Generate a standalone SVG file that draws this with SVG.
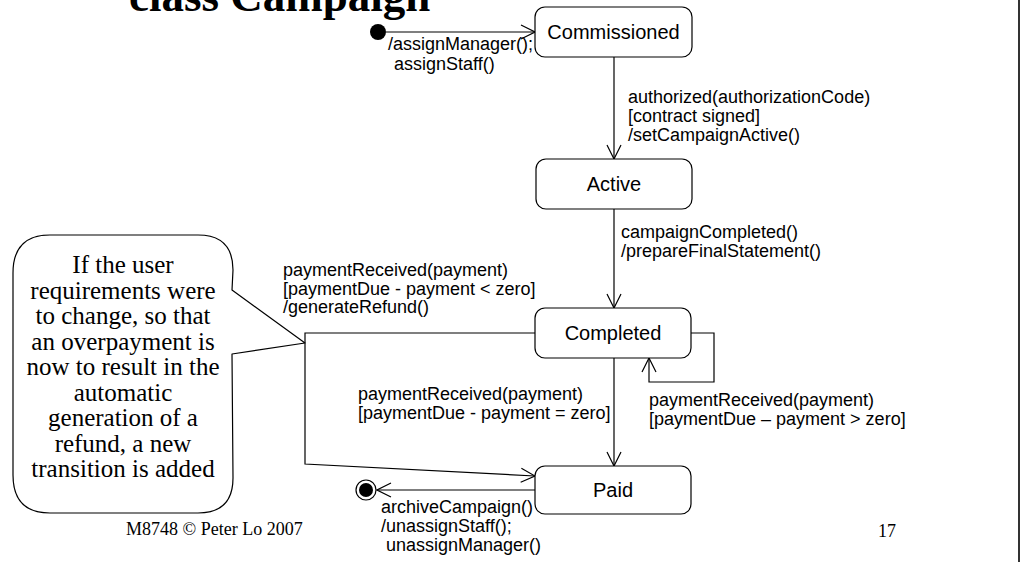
<svg xmlns="http://www.w3.org/2000/svg" width="1020" height="562" viewBox="0 0 1020 562">
  <style>
    .state rect { fill: #ffffff; stroke: #000000; stroke-width: 1.2; }
    .state text { font-family: "Liberation Sans", Arial, sans-serif; font-size: 20px; text-anchor: middle; fill: #000; }
    .lbl { font-family: "Liberation Sans", Arial, sans-serif; font-size: 18px; fill: #000; }
    .edge { fill: none; stroke: #000000; stroke-width: 1.2; }
    .serif { font-family: "Liberation Serif", "Times New Roman", serif; fill: #000; }
  </style>
  <defs>
    <marker id="open" viewBox="0 0 16 16" refX="15" refY="8" markerWidth="16" markerHeight="16" markerUnits="userSpaceOnUse" orient="auto">
      <path d="M1,1 L15,8 L1,15" fill="none" stroke="#000" stroke-width="1.2"/>
    </marker>
  </defs>

  <rect width="1020" height="562" fill="#ffffff"/>
  <!-- page edge -->
  <line x1="1019" y1="0" x2="1019" y2="562" stroke="#333" stroke-width="2"/>

  <!-- title -->
  <text class="serif" x="129" y="11" font-size="45" font-weight="bold">class Campaign</text>

  <!-- connectors -->
  <g id="connectors">
    <line class="edge" x1="386" y1="32" x2="535" y2="32" marker-end="url(#open)"/>
    <line class="edge" x1="614" y1="57" x2="614" y2="159" marker-end="url(#open)"/>
    <line class="edge" x1="614" y1="209" x2="614" y2="308" marker-end="url(#open)"/>
    <line class="edge" x1="614" y1="358" x2="614" y2="466" marker-end="url(#open)"/>
    <polyline class="edge" points="691,333 714,333 714,382 649,382 649,358" marker-end="url(#open)"/>
    <polyline class="edge" points="535,333 305,333 305,464 535,476" marker-end="url(#open)"/>
    <line class="edge" x1="535" y1="490" x2="377" y2="490" marker-end="url(#open)"/>

    <text class="lbl" x="388" y="50">/assignManager();</text>
    <text class="lbl" x="394" y="70">assignStaff()</text>

    <text class="lbl" x="628" y="103">authorized(authorizationCode)</text>
    <text class="lbl" x="628" y="122">[contract signed]</text>
    <text class="lbl" x="628" y="141">/setCampaignActive()</text>

    <text class="lbl" x="621" y="238">campaignCompleted()</text>
    <text class="lbl" x="621" y="257">/prepareFinalStatement()</text>

    <text class="lbl" x="283" y="276">paymentReceived(payment)</text>
    <text class="lbl" x="283" y="295">[paymentDue - payment &lt; zero]</text>
    <text class="lbl" x="283" y="313">/generateRefund()</text>

    <text class="lbl" x="358" y="400">paymentReceived(payment)</text>
    <text class="lbl" x="358" y="419">[paymentDue - payment = zero]</text>

    <text class="lbl" x="649" y="406">paymentReceived(payment)</text>
    <text class="lbl" x="649" y="425">[paymentDue – payment &gt; zero]</text>

    <text class="lbl" x="381" y="513">archiveCampaign()</text>
    <text class="lbl" x="381" y="532">/unassignStaff();</text>
    <text class="lbl" x="386" y="551">unassignManager()</text>
  </g>

  <!-- pseudo states -->
  <g id="initial">
    <circle cx="378" cy="32" r="8" fill="#000"/>
  </g>
  <g id="final">
    <circle cx="366" cy="490" r="10" fill="#fff" stroke="#000" stroke-width="1.2"/>
    <circle cx="366" cy="490" r="7" fill="#000"/>
  </g>

  <!-- states -->
  <g id="commissioned" class="state">
    <rect x="535" y="7" width="157" height="50" rx="10"/>
    <text x="613.5" y="39">Commissioned</text>
  </g>
  <g id="active" class="state">
    <rect x="536" y="159" width="156" height="50" rx="10"/>
    <text x="614" y="191">Active</text>
  </g>
  <g id="completed" class="state">
    <rect x="535" y="308" width="156" height="50" rx="10"/>
    <text x="613" y="340">Completed</text>
  </g>
  <g id="paid" class="state">
    <rect x="535" y="466" width="156" height="48" rx="10"/>
    <text x="613" y="497">Paid</text>
  </g>

  <!-- note callout -->
  <g id="note">
    <path d="M232,290 L233,270 Q233,235 198,235 L50,235 Q13,235 13,273 L13,475 Q13,513 50,513 L198,513 Q233,513 233,478 L232,354 L305,343 Z" fill="#fff" stroke="#000" stroke-width="1.2" stroke-linejoin="round"/>
    <g class="serif" font-size="25" text-anchor="middle">
      <text x="123" y="273">If the user</text>
      <text x="123" y="298.5">requirements were</text>
      <text x="123" y="324">to change, so that</text>
      <text x="123" y="349.5">an overpayment is</text>
      <text x="123" y="375">now to result in the</text>
      <text x="123" y="400.5">automatic</text>
      <text x="123" y="426">generation of a</text>
      <text x="123" y="451.5">refund, a new</text>
      <text x="123" y="477">transition is added</text>
    </g>
  </g>

  <!-- footer -->
  <text class="serif" x="126" y="535" font-size="18">M8748 © Peter Lo 2007</text>
  <text class="serif" x="878" y="537" font-size="18">17</text>
</svg>
